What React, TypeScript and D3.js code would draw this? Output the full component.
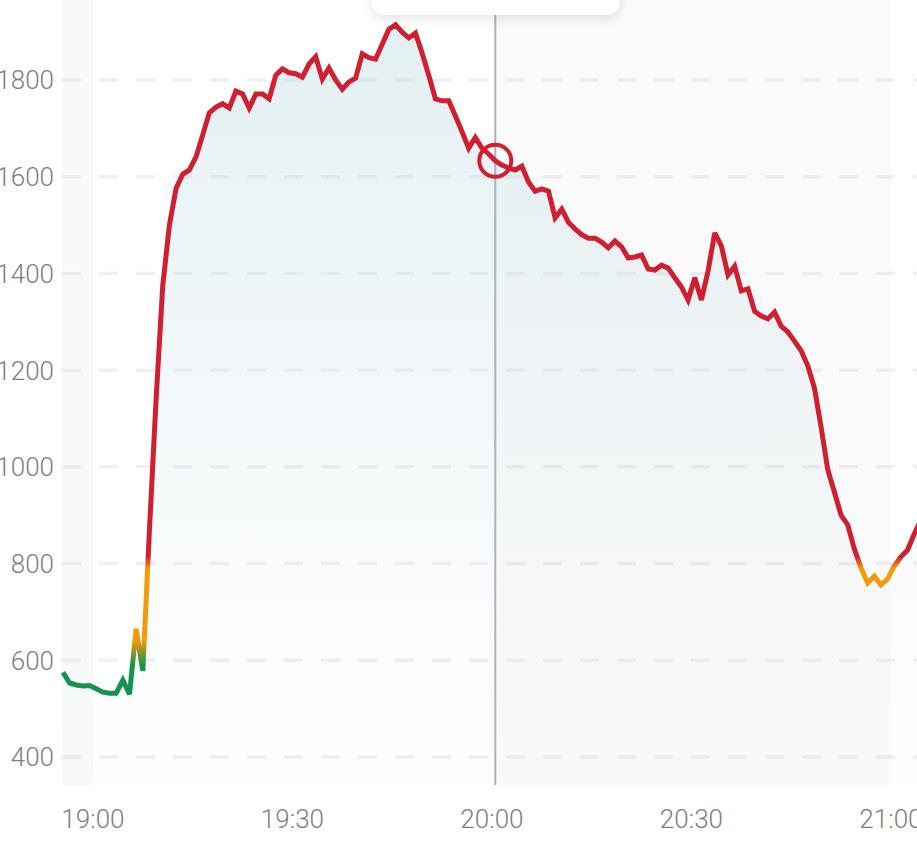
import React from "react";
import * as d3 from "d3";

// ---- data ----
const startTime = "18:55:30"; // first sample, 1-minute sampling
const values: number[] = [
  575, 553, 549, 547, 548, 541, 534, 532, 532, 559,
  530, 665, 578, 870, 1140, 1375, 1500, 1576, 1605, 1614,
  1641, 1686, 1732, 1744, 1751, 1742, 1777, 1771, 1742, 1771,
  1771, 1761, 1810, 1823, 1815, 1813, 1806, 1833, 1848, 1802,
  1825, 1800, 1781, 1796, 1804, 1854, 1846, 1843, 1874, 1905,
  1914, 1899, 1887, 1897, 1856, 1810, 1761, 1757, 1757, 1726,
  1693, 1659, 1681, 1659, 1647, 1633, 1624, 1618, 1614, 1622,
  1589, 1570, 1575, 1570, 1515, 1533, 1506, 1492, 1480, 1473,
  1473, 1465, 1453, 1467, 1455, 1432, 1434, 1438, 1409, 1407,
  1417, 1411, 1391, 1372, 1345, 1391, 1345, 1405, 1484, 1457,
  1397, 1415, 1364, 1368, 1322, 1312, 1306, 1320, 1291, 1279,
  1260, 1240, 1209, 1163, 1082, 994, 948, 900, 880, 830,
  791, 760, 774, 756, 768, 795, 814, 828, 861, 890,
];
const cursorIndex = 65;
const yTicks = [400, 600, 800, 1000, 1200, 1400, 1600, 1800];
const xTickLabels = ["19:00", "19:30", "20:00", "20:30", "21:00"];

const W = 917;
const H = 850;

function toDate(hms: string): Date {
  const [h, m, s] = hms.split(":").map(Number);
  return new Date(2024, 0, 1, h, m, s || 0);
}

export default function App() {
  const t0 = toDate(startTime);
  const times = values.map((_, i) => new Date(t0.getTime() + i * 60000));
  const data = values.map((v, i) => ({ t: times[i], v }));

  const x = d3
    .scaleTime()
    .domain([t0, new Date(t0.getTime() + 130 * 60000)])
    .range([63, 63 + 6.65 * 130]);
  const y = d3.scaleLinear().domain([400, 1800]).range([757, 80]);

  const plotBottom = 785;

  const line = d3
    .line<{ t: Date; v: number }>()
    .x((d) => x(d.t))
    .y((d) => y(d.v));
  const area = d3
    .area<{ t: Date; v: number }>()
    .x((d) => x(d.t))
    .y0(plotBottom)
    .y1((d) => y(d.v));

  const cur = data[cursorIndex];
  const cx = x(cur.t);
  const cy = y(cur.v);

  const xTickPos = xTickLabels.map((l) => x(toDate(l + ":00")));

  // colour gradient stops by value
  const gLow = 590;
  const gHigh = 815;
  const off = (v: number) => (v - gLow) / (gHigh - gLow);

  const font = "Roboto, 'Noto Sans', sans-serif";

  return (
    <svg
      width={W}
      height={H}
      style={{ position: "absolute", left: 0, top: 0, background: "#ffffff" }}
    >
      <defs>
        <linearGradient
          id="lineGrad"
          gradientUnits="userSpaceOnUse"
          x1={0}
          x2={0}
          y1={y(gLow)}
          y2={y(gHigh)}
        >
          <stop offset={0} stopColor="#14924f" />
          <stop offset={off(640)} stopColor="#f09a0c" />
          <stop offset={off(790)} stopColor="#f09a0c" />
          <stop offset={1} stopColor="#d01f30" />
        </linearGradient>
        <linearGradient
          id="areaGrad"
          gradientUnits="userSpaceOnUse"
          x1={0}
          x2={0}
          y1={20}
          y2={plotBottom}
        >
          <stop offset={0} stopColor="#cfe6ea" stopOpacity={0.6} />
          <stop offset={0.5} stopColor="#d9e8ee" stopOpacity={0.3} />
          <stop offset={1} stopColor="#e8eff3" stopOpacity={0.05} />
        </linearGradient>
        <filter id="shadow" x="-20%" y="-50%" width="140%" height="200%">
          <feDropShadow dx={0} dy={3} stdDeviation={6} floodColor="#000" floodOpacity={0.12} />
        </filter>
      </defs>

      {/* background bands */}
      <rect x={x(t0) - 1} y={0} width={x(toDate("19:00:00")) - x(t0) + 1} height={plotBottom} fill="#f9f9fa" />
      <rect x={cx} y={0} width={x(toDate("21:00:00")) - cx} height={plotBottom} fill="#fafafa" />

      {/* area */}
      <path d={area(data) || ""} fill="url(#areaGrad)" />

      {/* grid */}
      {yTicks.map((t) => (
        <line
          key={t}
          x1={62}
          x2={W}
          y1={y(t)}
          y2={y(t)}
          stroke="#c8ccd6"
          strokeOpacity={0.3}
          strokeWidth={3.5}
          strokeDasharray="19 18"
        />
      ))}

      {/* y labels */}
      {yTicks.map((t) => (
        <text
          key={t}
          x={54}
          y={y(t)}
          dy="0.36em"
          textAnchor="end"
          fontFamily={font}
          fontWeight={300}
          fontSize={26}
          fill="#7e7e84"
        >
          {t}
        </text>
      ))}

      {/* x labels */}
      {xTickLabels.map((l, i) => (
        <text
          key={l}
          x={xTickPos[i]}
          y={828}
          textAnchor="middle"
          fontFamily={font}
          fontWeight={300}
          fontSize={26}
          fill="#7e7e84"
        >
          {l}
        </text>
      ))}

      {/* cursor line */}
      <line x1={cx} x2={cx} y1={14} y2={plotBottom} stroke="#a9b3c1" strokeWidth={2} />

      {/* line */}
      <path
        d={line(data) || ""}
        fill="none"
        stroke="url(#lineGrad)"
        strokeWidth={5}
        strokeLinejoin="miter"
        strokeMiterlimit={3}
      />

      {/* marker */}
      <circle cx={cx} cy={cy} r={16} fill="none" stroke="#d01f30" strokeWidth={4} />

      {/* tooltip (mostly off-screen) */}
      <rect x={371} y={-60} width={249} height={75} rx={14} fill="#ffffff" filter="url(#shadow)" />
    </svg>
  );
}
